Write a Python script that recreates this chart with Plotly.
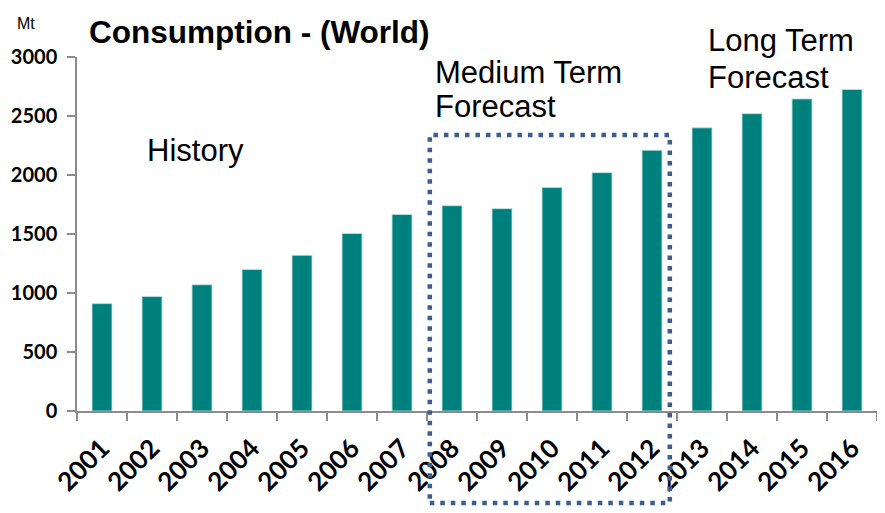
import plotly.graph_objects as go

years = [str(y) for y in range(2001, 2017)]
consumption = [910, 970, 1070, 1200, 1320, 1505, 1665, 1740, 1715, 1895, 2020, 2210, 2400, 2520, 2645, 2725]
y_ticks = [0, 500, 1000, 1500, 2000, 2500, 3000]

FONT = "Arial, Liberation Sans, sans-serif"
TICKFONT = "Lato, Open Sans, sans-serif"

fig = go.Figure()
fig.add_trace(go.Bar(
    x=years, y=consumption,
    marker=dict(color="#00807d", line=dict(color="rgba(190,225,225,0.9)", width=1)),
))

# page body has an 8px margin, so the figure is 8px smaller than the window
fig.update_layout(
    width=877, height=505,
    margin=dict(l=69, r=8, t=49, b=102),
    plot_bgcolor="white", paper_bgcolor="white",
    bargap=0.6, showlegend=False,
    font=dict(family=FONT, color="black"),
    xaxis=dict(
        type="category", tickangle=-45, tickson="boundaries",
        ticks="outside", ticklen=8, tickcolor="#8c8c8c", tickwidth=1.5,
        showline=True, linecolor="#8c8c8c", linewidth=1.5,
        showgrid=False, tickfont=dict(family=TICKFONT, size=26, weight="bold"),
        ticklabelstandoff=10, automargin=False,
    ),
    yaxis=dict(
        range=[0, 3000], tickvals=y_ticks, ticktext=[str(v) for v in y_ticks],
        ticks="outside", ticklen=8, tickcolor="#8c8c8c", tickwidth=1.5,
        showline=True, linecolor="#8c8c8c", linewidth=1.5,
        showgrid=False, zeroline=False,
        tickfont=dict(family=TICKFONT, size=20, weight="bold"),
        ticklabelstandoff=6, automargin=False,
    ),
)

ann = [
    dict(text="<b>Consumption - (World)</b>", x=0.0125, y=1.0706, size=31.5),
    dict(text="Mt", x=-0.078, y=1.095, size=16),
    dict(text="History", x=0.085, y=0.7345, size=31),
    dict(text="Medium Term", x=0.445, y=0.9576, size=31),
    dict(text="Forecast", x=0.445, y=0.8588, size=31),
    dict(text="Long Term", x=0.786, y=1.048, size=31),
    dict(text="Forecast", x=0.786, y=0.9435, size=31),
]
for a in ann:
    fig.add_annotation(
        text=a["text"], x=a["x"], y=a["y"], xref="paper", yref="paper",
        xanchor="left", yanchor="middle", align="left", showarrow=False,
        font=dict(family=FONT, size=a["size"], color="black"),
    )

fig.add_shape(
    type="rect", xref="paper", yref="paper",
    x0=0.441, x1=0.741, y0=-0.26, y1=0.78,
    line=dict(color="#3b5e91", width=4.5, dash="4.5px,6px"),
    fillcolor="rgba(0,0,0,0)",
)

fig.write_html("out.html")
